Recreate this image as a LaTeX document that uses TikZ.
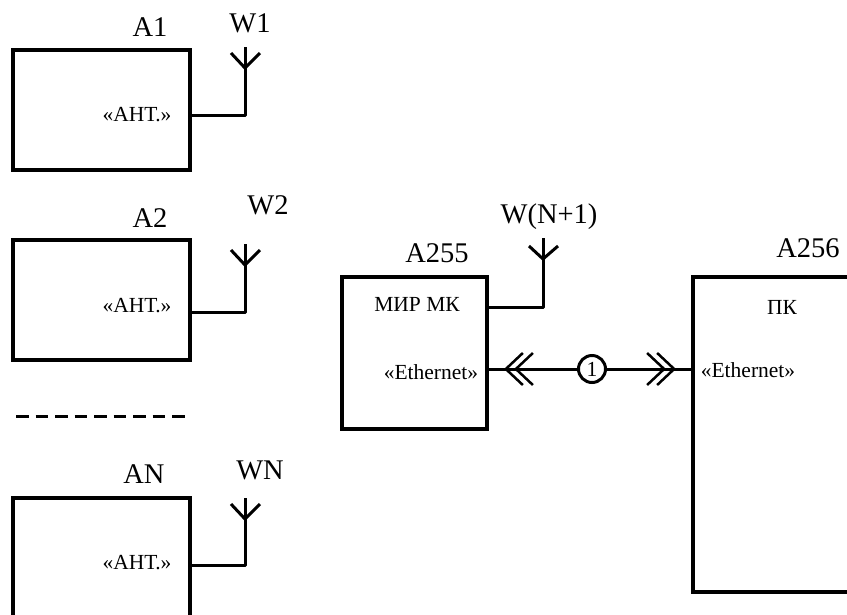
\documentclass[tikz,border=0pt]{standalone}
\usepackage{fontspec}
\setmainfont{Liberation Serif}
\usetikzlibrary{
  arrows.meta,
  calc
}
\tikzset{
  block/.style={draw, line width=4pt, rectangle, inner sep=0pt, outer sep=0pt, anchor=north west},
  wire/.style={line width=3pt, line join=round},
  ref/.style={font=\fontsize{28.5}{28.5}\selectfont},
  port/.style={font=\fontsize{21.5}{21.5}\selectfont},
  barbs/.tip={Straight Barb[length=17pt,width=32pt,line width=2.5pt,sep=-10pt]Straight Barb[length=17pt,width=32pt,line width=2.5pt]}
}
\begin{document}
\begin{tikzpicture}[x=1pt, y=-1pt]
  \clip (0,0) rectangle (847,614);
  % left column of units
  \foreach \n/\t/\h/\aname/\lx/\ly/\wname/\wx/\wy/\py/\by/\ay in {
    1/50/120/A1/150/27/W1/250/23/115/115/47,
    2/240/120/A2/150/218/W2/268/205/306/312/244,
    3/498/150/AN/144/474/WN/260/470/563/565/498}{
    \node[block, minimum width=177pt, minimum height=\h pt] (A\n) at (13,\t) {};
    \node[port] (port\n) at (137,\py) {«АНТ.»};
    \node[ref] (name\n) at (\lx,\ly) {\aname};
    \node[ref] (wname\n) at (\wx,\wy) {\wname};
    \coordinate (top\n) at (245,\ay);
    \coordinate (bend\n) at (245,\by);
    \draw[wire] (A\n.east |- bend\n) -- (bend\n) -- (top\n);
    \draw[wire] (231,\ay+6) -- (245,\ay+21) -- (260,\ay+6);
  }
  \draw[line width=3pt, dash pattern=on 12.7pt off 6.8pt] (16,416) -- (186,416);
  % modem
  \node[block, minimum width=145pt, minimum height=152pt] (A255) at (342,277) {};
  \node[ref] (nameA255) at (437,253) {A255};
  \node[port] (mir) at (417,304) {МИР МК};
  \node[port] (ethL) at (431,372) {«Ethernet»};
  \node[ref] (wnameM) at (549,217) {W(N+1)};
  \coordinate (topM) at (543,238);
  \coordinate (bendM) at (543,307);
  \draw[wire] (A255.east |- bendM) -- (bendM) -- (topM);
  \draw[wire] (529,246) -- (543,259) -- (558,246);
  % computer
  \node[block, minimum width=200pt, minimum height=315pt] (A256) at (693,277) {};
  \node[ref] (nameA256) at (808,248) {A256};
  \node[port] (pc) at (782,307) {ПК};
  \node[port] (ethR) at (748,370) {«Ethernet»};
  % link
  \node[draw, circle, line width=3pt, minimum size=27pt, inner sep=0pt, font=\fontsize{21.5}{21.5}\selectfont] (N1) at (592,369) {1};
  \coordinate (tipL) at (504,369);
  \coordinate (tipR) at (676,369);
  \draw[wire] (A255.east |- N1) -- (N1);
  \draw[wire] (A256.west |- N1) -- (N1);
  \draw[wire, barbs-] (tipL) -- (N1);
  \draw[wire, -barbs] (N1) -- (tipR);
\end{tikzpicture}
\end{document}
